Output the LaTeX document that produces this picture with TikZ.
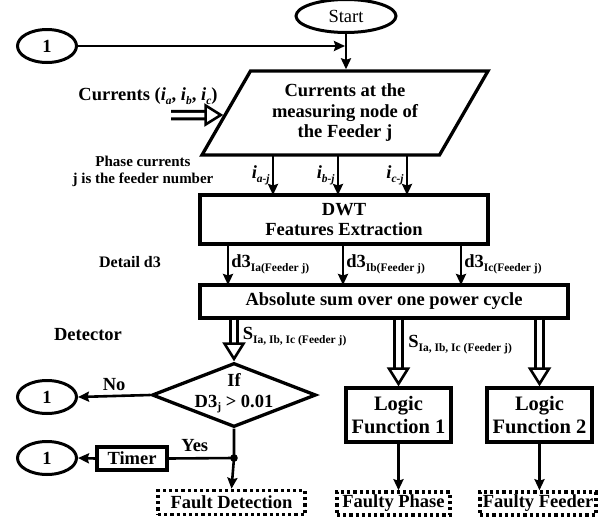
\documentclass[tikz,border=0pt]{standalone}
\usepackage{fontspec}
\setmainfont{Liberation Serif}
\usetikzlibrary{shapes.geometric,arrows.meta,calc}
\newcommand\lo[1]{\raisebox{-.45ex}{\fontsize{11.5}{12}\selectfont #1}}
% hollow (double) arrow: shaft, then a white-filled head
\newcommand\fatarrow[3][]{\draw[shaft] (#2) -- (#3) #1; \draw[fathead] ($(#3)!24pt!(#2)$) -- (#3);}

\begin{document}
\begin{tikzpicture}[x=1pt,y=-1pt,font=\fontsize{18.5}{20.5}\selectfont\bfseries,
  box/.style={draw,line width=3.3pt,align=center,inner sep=0pt},
  oval/.style={draw,ellipse,line width=3pt,inner sep=0pt,minimum width=59pt,minimum height=33pt},
  result/.style={draw,line width=3.5pt,dash pattern=on 3.2pt off 3pt,inner sep=0pt,minimum height=24pt},
  arr/.style={line width=2.6pt,-{Stealth[length=11pt,width=10pt,inset=1.5pt]}},
  shaft/.style={double,double distance=4.5pt,line width=3pt,shorten >=14pt},
  fathead/.style={draw=white,line width=1pt,-{Triangle[length=19pt,width=23pt,color=black,fill=white,line width=2.6pt]}}]
\useasboundingbox (0,0) rectangle (608,525);

\node[oval,minimum width=100pt] (start) at (346,16) {\mdseries Start};
\node[oval] (back1) at (47,46) {1};
\node[box,trapezium,trapezium left angle=50,trapezium right angle=130,trapezium stretches body,
  minimum width=286pt,minimum height=84pt] (meas) at (345,113) {Currents at the\\measuring node of\\the Feeder j};
\draw[arr] (start) -- (start |- meas.north);
\draw[arr] (back1) -- ([xshift=-1pt]back1 -| start);

\node (curr) at (148,96) {Currents (\textit{i}\lo{\textit{a}}, \textit{i}\lo{\textit{b}}, \textit{i}\lo{\textit{c}})};
\coordinate (currin) at (171,115);
\coordinate (measin) at ($(meas.west)+(-1,2)$);
\fatarrow{currin}{measin}
\node[font=\fontsize{15}{17}\selectfont\bfseries,align=center] (phase) at (143,171) {Phase currents\\j is the feeder number};

% DWT
\node[box,minimum width=288pt,minimum height=49pt] (dwt) at (344,219.5) {DWT\\Features Extraction};
\foreach \x/\p in {273/a,338/b,407/c}
  \draw[arr] (\x,155) -- (\x,195) node[midway,left,inner sep=2pt] {\textit{i}\lo{\textit{\p-j}}};

% absolute sum
\node[box,minimum width=368pt,minimum height=33pt] (abs) at (384,301.5) {Absolute sum over one power cycle};
\node[font=\fontsize{16}{18}\selectfont\bfseries] (detail) at (130,262) {Detail d3};
\foreach \x/\p in {228/a,343/b,461/c}
  \draw[arr] (\x,244) -- (\x,285) node[midway,right,inner sep=2pt] {d3\lo{I\p(Feeder j)}};

% detector
\node (det) at (88,335) {Detector};
\node[draw,diamond,line width=3.3pt,inner sep=0pt,minimum width=164pt,minimum height=64pt] (chk) at (234,395) {};
\node[align=center] at (234,393.5) {If\\D3\lo{j} > 0.01};
\fatarrow[{node[pos=0.4,right=4pt] {S\lo{Ia, Ib, Ic (Feeder j)}}}]{chk |- abs.south}{chk.north}

\node[oval] (back2) at (47,397) {1};
\draw[arr] (chk.west) -- (back2.east) node[midway,above=1pt] {No};

\node[box,minimum width=70pt,minimum height=23pt] (timer) at (132,458.5) {Timer};
\node[oval] (back3) at (47,458) {1};
\coordinate (dot) at (234,458);
\fill (dot) circle (3.8pt);
\draw[line width=2.6pt] (chk.south) -- (dot) -- (timer.east) node[pos=0.6,above=2pt] {Yes};
\draw[arr] (timer.west) -- (back3.east);

\node[result,minimum width=147pt] (fdet) at (231.5,502.5) {Fault Detection};
\draw[arr] (dot) -- (fdet.north);

% logic functions
\node[box,minimum width=105pt,minimum height=54pt,font=\fontsize{20.5}{23}\selectfont\bfseries] (logic1) at (398.5,415) {Logic\\Function 1};
\node[box,minimum width=105pt,minimum height=54pt,font=\fontsize{20.5}{23}\selectfont\bfseries] (logic2) at (539.5,415) {Logic\\Function 2};
\fatarrow[{node[pos=0.38,right=5pt] {S\lo{Ia, Ib, Ic (Feeder j)}}}]{logic1 |- abs.south}{logic1.north}
\fatarrow{logic2 |- abs.south}{logic2.north}

\node[result,minimum width=113pt,minimum height=23pt] (fphase) at (393.5,503.5) {Faulty Phase};
\node[result,minimum width=116pt,minimum height=23pt] (ffeed) at (538,503.5) {Faulty Feeder};
\draw[arr] (logic1.south) -- (logic1.south |- fphase.north);
\draw[arr] (logic2.south) -- (logic2.south |- ffeed.north);

\end{tikzpicture}
\end{document}
